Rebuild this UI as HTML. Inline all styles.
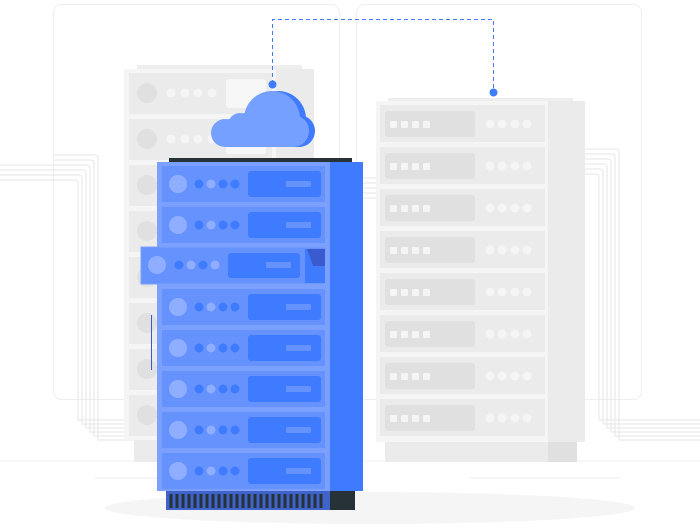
<!DOCTYPE html>
<html><head><style>html,body{margin:0;padding:0;background:#fff}svg{display:block}</style></head><body>
<svg width="700" height="530" viewBox="0 0 700 530" xmlns="http://www.w3.org/2000/svg">
<rect width="700" height="530" fill="#fff"/>
<rect x="53.5" y="4.5" width="286" height="395" rx="8" fill="none" stroke="#eeeeee"/>
<rect x="356.5" y="4.5" width="285" height="395" rx="8" fill="none" stroke="#eeeeee"/>
<g fill="none" stroke="#e6e6e6" stroke-width="1">
<path d="M53 155H95a3 3 0 0 1 3 3V440H160"/>
<path d="M53 160H91a3 3 0 0 1 3 3V436H160"/>
<path d="M53 165H87a3 3 0 0 1 3 3V432H160"/>
<path d="M53 170H83a3 3 0 0 1 3 3V428H160"/>
<path d="M53 175H79a3 3 0 0 1 3 3V424H160"/>
<path d="M53 180H75a3 3 0 0 1 3 3V420H160"/>
<path d="M0 175H53M0 180H53M0 165H53M0 170H53"/>
<path d="M585 149H616a3 3 0 0 1 3 3V440H700"/>
<path d="M585 154H612a3 3 0 0 1 3 3V436H700"/>
<path d="M585 159H608a3 3 0 0 1 3 3V432H700"/>
<path d="M585 164H604a3 3 0 0 1 3 3V428H700"/>
<path d="M585 169H600a3 3 0 0 1 3 3V424H700"/>
<path d="M585 174H596a3 3 0 0 1 3 3V420H700"/>
<path d="M340 178H376M340 183H376M340 188H376M340 193H376M340 198H376"/>
</g>
<line x1="0" y1="461" x2="700" y2="461" stroke="#f0f0f0"/>
<g stroke="#eeeeee"><line x1="95" y1="478" x2="260" y2="478"/><line x1="470" y1="478" x2="620" y2="478"/></g>
<ellipse cx="370" cy="508" rx="265" ry="16" fill="#f5f5f5"/>
<rect x="137" y="65" width="165" height="4" fill="#eeeeee"/>
<rect x="124" y="69" width="190" height="371" fill="#f5f5f5"/>
<rect x="276" y="69" width="38" height="371" fill="#ebebeb"/>
<rect x="134" y="440" width="160" height="22" fill="#ebebeb"/>
<g id="lu">
<rect x="129" y="73" width="143" height="41" fill="#ebebeb"/>
<circle cx="147" cy="93" r="10" fill="#e0e0e0"/>
<g fill="#f5f5f5"><circle cx="171" cy="93" r="4.5"/><circle cx="185" cy="93" r="4.5"/><circle cx="198" cy="93" r="4.5"/><circle cx="212" cy="93" r="4.5"/></g>
<rect x="226" y="79" width="40" height="29" rx="3" fill="#f7f7f7"/>
</g>
<use href="#lu" y="46"/><use href="#lu" y="92"/><use href="#lu" y="138"/><use href="#lu" y="184"/><use href="#lu" y="230"/><use href="#lu" y="276"/><use href="#lu" y="322"/>
<rect x="388" y="98" width="185" height="4" fill="#eeeeee"/>
<rect x="376" y="101" width="209" height="341" fill="#f5f5f5"/>
<rect x="548" y="101" width="37" height="341" fill="#ebebeb"/>
<rect x="385" y="442" width="192" height="20" fill="#ebebeb"/>
<rect x="548" y="442" width="29" height="20" fill="#e0e0e0"/>
<g id="ru">
<rect x="380" y="105" width="165" height="37" fill="#ebebeb"/>
<rect x="385" y="111" width="90" height="26" rx="3" fill="#e0e0e0"/>
<g fill="#f5f5f5"><rect x="390" y="121" width="7" height="7" rx="1"/><rect x="401" y="121" width="7" height="7" rx="1"/><rect x="412" y="121" width="7" height="7" rx="1"/><rect x="423" y="121" width="7" height="7" rx="1"/>
<circle cx="490" cy="124" r="4.5"/><circle cx="502" cy="124" r="4.5"/><circle cx="515" cy="124" r="4.5"/><circle cx="527" cy="124" r="4.5"/></g>
</g>
<use href="#ru" y="42"/><use href="#ru" y="84"/><use href="#ru" y="126"/><use href="#ru" y="168"/><use href="#ru" y="210"/><use href="#ru" y="252"/><use href="#ru" y="294"/>
<path d="M272.5 84V19.5H493.5V92" fill="none" stroke="#3F7BFF" stroke-dasharray="4 3"/>
<circle cx="272.5" cy="84.5" r="4" fill="#3F7BFF"/><circle cx="493.5" cy="92.5" r="4" fill="#3F7BFF"/>
<!-- cloud -->
<g fill="#3F7BFF" transform="translate(6,0)">
<circle cx="272" cy="119" r="28"/><circle cx="293" cy="131" r="16"/><circle cx="240" cy="125" r="12"/><circle cx="225" cy="133" r="14"/>
<rect x="225" y="125" width="70" height="22"/>
</g>
<g fill="#75A0FF">
<circle cx="272" cy="119" r="28"/><circle cx="293" cy="131" r="16"/><circle cx="240" cy="125" r="12"/><circle cx="225" cy="133" r="14"/>
<rect x="225" y="125" width="70" height="22"/>
</g>
<rect x="169" y="158" width="183" height="4" fill="#263238"/>
<rect x="157" y="162" width="173" height="329" fill="#7BA0FF"/>
<rect x="330" y="162" width="33" height="329" fill="#3F7BFF"/>
<g id="bu">
<rect x="162" y="166" width="163" height="36" fill="#6592FD"/>
<circle cx="178" cy="184" r="9" fill="#8FAEFF"/>
<g fill="#3F7BFF"><circle cx="199" cy="184" r="4.5"/><circle cx="211" cy="184" r="4.5" fill="#8FAEFF"/><circle cx="223" cy="184" r="4.5"/><circle cx="235" cy="184" r="4.5"/></g>
<rect x="248" y="171" width="73" height="26" rx="3" fill="#3F7BFF"/>
<rect x="286" y="181" width="25" height="6" rx="1" fill="#6592FD"/>
</g>
<use href="#bu" y="41"/><use href="#bu" y="123"/><use href="#bu" y="164"/><use href="#bu" y="205"/><use href="#bu" y="246"/><use href="#bu" y="287"/>
<rect x="141" y="247" width="184" height="37" fill="#6592FD"/>
<rect x="141" y="247" width="184" height="37" fill="none" stroke="#7BA0FF"/>
<circle cx="157" cy="265" r="9" fill="#8FAEFF"/>
<circle cx="179" cy="265" r="4.5" fill="#3F7BFF"/><circle cx="191" cy="265" r="4.5" fill="#8FAEFF"/><circle cx="203" cy="265" r="4.5" fill="#3F7BFF"/><circle cx="215" cy="265" r="4.5" fill="#8FAEFF"/>
<rect x="228" y="253" width="72" height="25" rx="3" fill="#3F7BFF"/>
<rect x="266" y="262" width="25" height="6" rx="1" fill="#6592FD"/>
<path d="M305 249h20v34h-20z" fill="#3F7BFF"/>
<path d="M307 249h18v17h-12z" fill="#3A5BD0"/>
<line x1="151.5" y1="315" x2="151.5" y2="370" stroke="#3A5BD0"/>
<rect x="166" y="491" width="164" height="19" fill="#3F63C8"/>
<g stroke="#263238" stroke-width="3">
<path d="M171 494v14M177 494v14M183 494v14M189 494v14M195 494v14M201 494v14M207 494v14M213 494v14M219 494v14M225 494v14M231 494v14M237 494v14M243 494v14M249 494v14M255 494v14M261 494v14M267 494v14M273 494v14M279 494v14M285 494v14M291 494v14M297 494v14M303 494v14M309 494v14M315 494v14M321 494v14"/>
</g>
<rect x="330" y="491" width="25" height="19" fill="#263238"/>
</svg>
</body></html>
